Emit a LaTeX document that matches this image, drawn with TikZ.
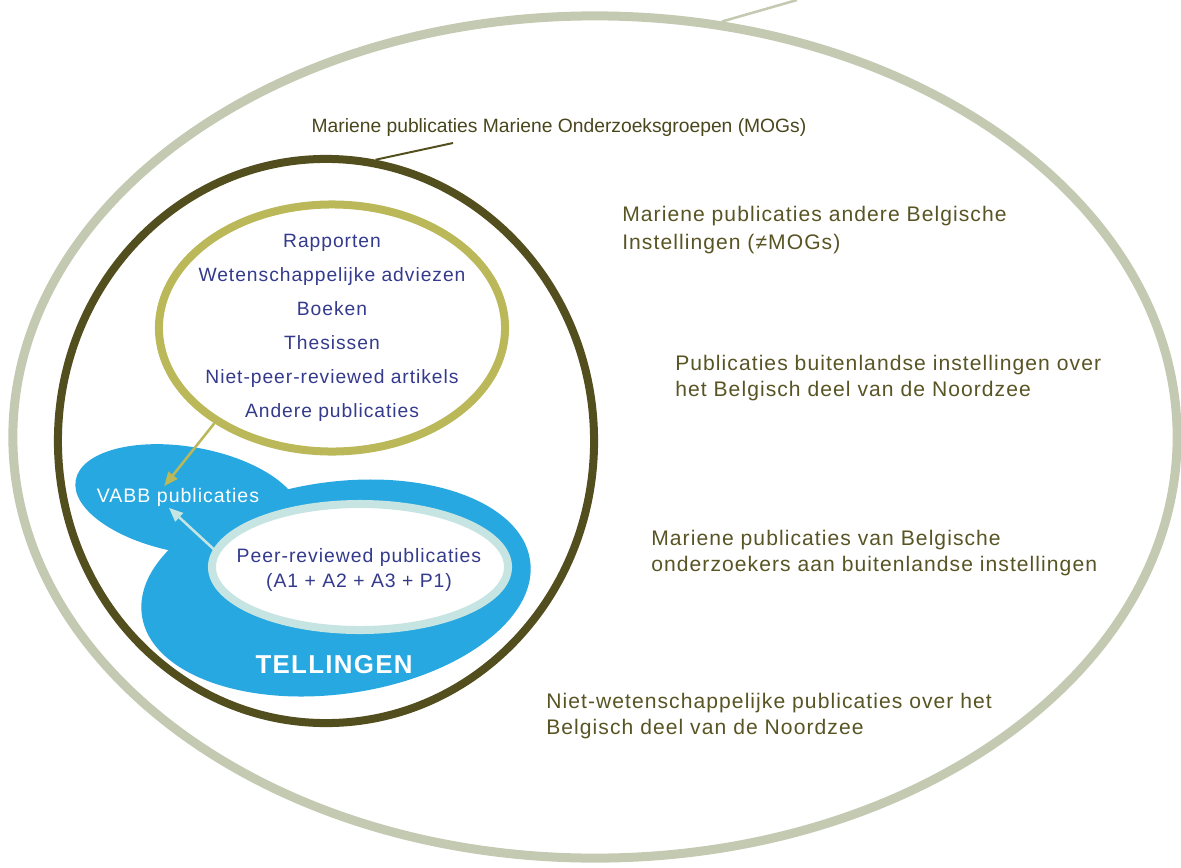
\documentclass[tikz,border=0pt]{standalone}
\usepackage{fontspec}
\setmainfont{Liberation Sans}
\newfontfamily\widefont[LetterSpace=5]{Liberation Sans}
\usetikzlibrary{shapes.geometric,arrows.meta}

\definecolor{sage}{RGB}{196,201,178}
\definecolor{mogolive}{RGB}{82,78,30}
\definecolor{goldring}{RGB}{186,184,88}
\definecolor{vabbblue}{RGB}{40,168,224}
\definecolor{peerring}{RGB}{198,228,226}
\definecolor{listblue}{RGB}{52,58,140}
\definecolor{labelolive}{RGB}{88,84,36}
\definecolor{mogtext}{RGB}{74,70,28}

\begin{document}
\begin{tikzpicture}[x=0.025cm, y=-0.025cm,
  ring/.style={ellipse, draw, line width=0.2cm, inner sep=0pt},
  blob/.style={ellipse, fill=vabbblue, inner sep=0pt},
  sidelabel/.style={anchor=west, align=left, inner sep=0pt, text=labelolive, font=\widefont\fontsize{15}{18.5}\selectfont},
  listtext/.style={text=listblue, align=center},
  feed/.style={line width=1.8pt, -{Triangle[length=10pt,width=8pt]}}]

  \useasboundingbox (0,0) rectangle (1181,867);

  % Draw the outer rings
  \node[ring, draw=sage, line width=0.225cm, minimum width=29.1cm, minimum height=21.05cm] (world) at (595,437) {};
  \node[ring, draw=mogolive, minimum width=13.4cm, minimum height=14.1cm] (mogs) at (326,441) {};

  % Draw the blue counting blob
  \node[blob, rotate=-10, minimum width=5.7cm, minimum height=2.65cm] (vabbblob) at (188,500) {};
  \node[blob, rotate=8, minimum width=9.8cm, minimum height=5.3cm] (tellblob) at (336,588) {};

  % Draw the two inner rings
  \node[ring, draw=goldring, minimum width=8.65cm, minimum height=6.175cm] (other) at (332,328) {};
  \node[ring, draw=peerring, fill=white, minimum width=7.4cm, minimum height=3.15cm] (peer) at (360,567) {};

  % Lists inside the rings
  \node[listtext, font=\widefont\fontsize{13.7}{24.2}\selectfont] (otherlist) at (332,328)
    {Rapporten\\Wetenschappelijke adviezen\\Boeken\\Thesissen\\Niet-peer-reviewed artikels\\Andere publicaties};
  \node[listtext, font=\widefont\fontsize{13.8}{17.8}\selectfont] (peerlist) at (359,570)
    {Peer-reviewed publicaties\\(A1 + A2 + A3 + P1)};

  % Texts on the blob
  \node[text=white, inner sep=1pt, font=\widefont\fontsize{13.9}{16}\selectfont] (vabbtext) at (178,497) {VABB publicaties};
  \node[text=white, font=\widefont\bfseries\fontsize{18.4}{22}\selectfont] (tellings) at (334,665) {TELLINGEN};

  % Arrows into VABB
  \draw[feed, goldring] (other.219) -- (vabbtext.142);
  \draw[feed, peerring] (peer.173) -- (vabbtext.230);

  % Labels
  \node[text=mogtext, font=\fontsize{13.7}{16}\selectfont] (moglabel) at (559,128)
    {Mariene publicaties Mariene Onderzoeksgroepen (MOGs)};
  \coordinate (mogtip) at (453,143);
  \draw[mogolive, line width=1.4pt] (mogs.80) -- (mogtip);
  \coordinate (worldlead) at (797,0);
  \draw[sage, line width=1.8pt] (world.73) -- (worldlead);

  \node[sidelabel, font=\widefont\fontsize{15}{20}\selectfont] (belgian) at (622,230)
    {Mariene publicaties andere Belgische\\Instellingen (≠MOGs)};
  \node[sidelabel] (foreign) at (675,378)
    {Publicaties buitenlandse instellingen over\\het Belgisch deel van de Noordzee};
  \node[sidelabel] (abroad) at (651,553)
    {Mariene publicaties van Belgische\\onderzoekers aan buitenlandse instellingen};
  \node[sidelabel] (popular) at (546,716)
    {Niet-wetenschappelijke publicaties over het\\Belgisch deel van de Noordzee};

\end{tikzpicture}
\end{document}
